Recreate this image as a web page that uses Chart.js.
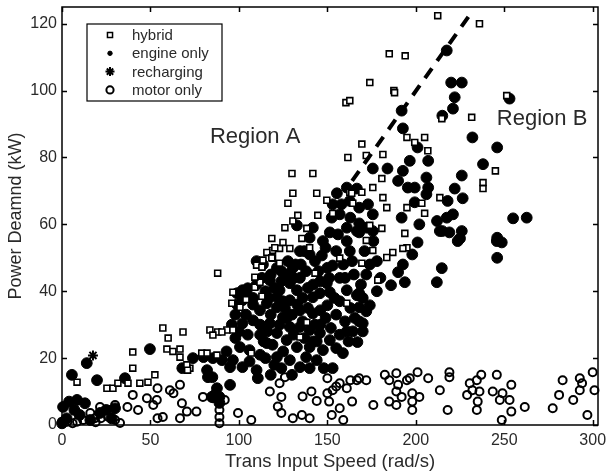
<!DOCTYPE html>
<html>
<head>
<meta charset="utf-8">
<script src="https://cdn.jsdelivr.net/npm/chart.js@4.4.1/dist/chart.umd.min.js"></script>
<style>
  html, body { margin: 0; background: #fff; }
</style>
</head>
<body>
<canvas id="chart" width="611" height="476"></canvas>
<script>
// [speed (rad/s), power (kW)]
const hybridPoints = [
  [8.5,12.8],[25.4,11],[28.8,11],[31.6,12.5],[37.3,12.5],[40,17],[40,21.8],[44,12.5],[48.6,12.8],[52.5,15],
  [57,29],[60,26],[68.4,27.8],[59.3,22.7],[62.7,22],[66.7,22.7],[66.7,20.3],[72.3,17],[79,21.5],[83.6,28.4],
  [88,27.8],[93.2,28.4],[96.6,28.4],[87.6,20.9],[107,21.5],[88,45.4],[96,36.4],[96.6,39.7],[100.6,35.2],[85.3,26.9],
  [90.4,27.8],[82,21.5],[138.4,30.7],[134.5,26.3],[161,36.4],[70.6,18],[71,16.4],[109,41.2],[111.9,42.7],[110,47.8],
  [113.6,49.3],[119,49.9],[123,52.8],[126,59],[130.5,61],[127.7,66.3],[119,52.2],[161.6,80],[172,80.6],[130,75.2],
  [141.8,75.2],[130.5,69.3],[144,69.3],[149.7,67.2],[133.3,62.7],[138.4,58.8],[144.6,62.7],[135.6,55.8],[140,53],[118.6,55.8],
  [124.9,54.6],[120.3,53],[128.8,52.8],[115.8,51.6],[118.6,50],[113,47.2],[123,48.4],[109,44.2],[143,45.4],[169.5,48.4],
  [157,49.9],[162.7,69.6],[169.5,69.6],[164.4,66.3],[153,63.3],[172,55.2],[185,111],[194,110.4],[174,102.4],[187.6,100],
  [160.5,96.4],[162.7,97],[169.5,84],[181.4,80.9],[195,86],[205,86],[212.4,122.4],[236,120],[251.4,98.5],[231.6,92],
  [214.7,91.6],[199.4,84.5],[206.8,82],[245,76],[238,72.5],[238,70.7],[213.6,68],[203.4,66.3],[205,63.3],[195,65],
  [193.8,57.3],[195,53],[188,99.4],[180.8,73.7],[175.7,71],[181.4,68],[183.6,65],[163.8,69.3],[180.8,58.8],[174,59.7],
  [175.7,52.2],[187,51.6],[192.7,52.8],[183.6,50.1],[178.5,43.3],[104,37.5],[113,38.5]
];
const engineOnlyPoints = [
  [0,0.5],[2.6,2],[0.6,5.4],[7,4.5],[8.5,7.5],[10,3],[13,6.5],[16,1.5],[21.5,3.6],[25,4.5],
  [28,2],[30,5],[5.6,15],[14,18.5],[19.8,13.4],[35.6,14],[49.7,22.7],[68,17],[74,20],[80,20.3],
  [85.3,20],[90.4,19.4],[82.5,14.3],[85,14.3],[87.6,11],[84.7,8.4],[89,8.4],[89,6.6],[86.4,9],[95,12],
  [110.7,14],[82,16.4],[4,7],
  [98.9,39.4],[104.5,38.8],[102,37.3],[108,31.3],[102,30.4],[117.5,30.4],[124.9,32.2],[121.5,27.5],[127,25.4],[115.8,24.5],
  [106,22.4],[100.6,23.3],[96.6,19.4],[95,17.3],[102,17.3],[110,16.4],[121.5,20.3],[128.8,19.4],[134.5,17.3],[138,20.3],
  [144,19.4],[147.5,22.4],[140,23.3],[132.8,23.3],[134.5,29.3],[140,28.4],[128.8,29.3],[115.8,36.4],[121.5,35.2],[111.9,34.3],
  [134.5,34.3],[141.8,33.4],[128.8,37.3],[123,40.3],[132.8,40.3],[145.8,27.5],[151.4,25.4],[146,34.3],[150,35.8],[151.4,39.7],
  [141.8,38.2],[153,17],[158.8,21.5],[161,28],[164.4,28],[170,28],[167,24.8],[165.5,32],[166.7,38.8],[168,35.2],
  [174,35.8],[170,30.4],[170,38],[112,27],[118,33],[125,22],[130,33],[137,26],[143,30],[110,42],
  [115,40],[136,38],[138,46],[145,46],[155,33],[157,37],[160,44],[120,18],[115,20],[130,15],
  [105,27],[98,26],[148,17],[172,45],[180,44],
  [100,28],[104,33],[108,36],[112,30],[116,28],[119,24],[123,30],[126,35],[131,27],[133,36],
  [136,31],[139,35],[142,25],[146,30],[149,32],[152,29],[155,23],[157,27],[160,31],[163,35],
  [159,48],[155,52],[150,47],[146,43],[142,42],[139,41],[135,48],[131,44],[127,45],[124,43],
  [120,41],[117,38],[113,44],[108,38],[125,37],[118,45],[137,52],[143,49],[149,53],[156,57],
  [163,62],[158,66],[165,45],[169,42],[171,52],[176,55],[178,40],[106,19],[112,21],[118,15],
  [124,17],[140,17],[144,25],[98,33],[96,30],[93,22],[114,25],[127,32],[132,48],[151,44],
  [164,49],[154,38],[162,25],[168,31],[172,34],[99,36],
  [110,49],[113.6,48],[121.5,47],[134.5,52],[140,56],[141.8,59],[155.4,69.3],[161,71],[153,66],[157,63],
  [152.5,62],[132.8,59.7],[166.7,58],[151.4,57.6],[147.5,55],[161,55],[168,57.6],[172,59],[162.7,52],[146.9,50.7],
  [140,51],[127.7,49],[130.5,47],[124,46],[134.5,44],[128.8,42.4],[153,47.7],[157,44],[149.7,42.4],[161,40.3],
  [168,39.4],[145.8,39.4],[102,40.3],[105,40.9],[117.5,43.3],[121.5,38.2],[166.7,70.7],[173,66],[168,65],[175.7,63],
  [161,59],[175.7,58],[162.7,67],[168,60.3],[174,48],[178,49],
  [220,102.4],[226,102.4],[222,98],[221,94.6],[215,92.5],[192,94],[192.7,88.7],[201,83],[207,79],[196.6,79],
  [184,76.7],[175.7,76.7],[192.7,76],[190,73],[195.5,71],[206,74],[207,71],[206,69],[199.4,71],[232,86],
  [246,83],[238,78],[226,74.6],[222,70.7],[226.5,67.8],[218,67],[199.4,66.6],[192,62],[202,60],[212,61],
  [217.5,62],[221,63],[215,58],[226,58],[246,56],[217.5,112],[253,97.6],[255,61.8],[262.7,62],[245.8,55],
  [248.6,54.6],[225,55.8],[219,57.6],[213.6,58],[223.7,55],[201,54.6],[198,51],[192.7,48],[190,45.7],[193.8,42.7],
  [186,41.8],[214.7,46.9],[211.9,42.7],[246,50]
];
const rechargingPoints = [[17.5,20.8]];
const motorOnlyPoints = [
  [0,1],[3,1],[6,0.5],[8.5,1],[12,1.5],[16,3.6],[18.6,2],[19,0.8],[22,2],[21.5,5.4],
  [26,2.5],[27,4.5],[30,6],[30,1.5],[32.8,0.6],[37,5.4],[40,9],[43,4.5],[48,8],[51.6,6],
  [53.6,7.5],[54,11],[54,2],[57,2.4],[61,10.4],[63,9.5],[66.7,12],[67.8,6.5],[70.6,4],[66.7,2],
  [76,4],[79.7,8.4],[85.3,8],[89,2.4],[89,0.5],[89,4.5],[92,7.5],[99.5,3.6],[107,1.5],[117.5,10],
  [123,12.5],[126,14.3],[124,8.4],[122,5.5],[124,3.6],[130.5,2],[135.6,3],[140,2],[136,8.5],[141,10],
  [144,7.2],[150,9.5],[150,14],[153,10.4],[155,11.5],[157,12.5],[161,11],[163,13.4],[166.7,13.4],[168,14],
  [172,13.4],[151,7],[157,5],[159,1.5],[152.5,3],[164,7],[176,6],[182.5,15],[185,13.4],[189,15.5],
  [190,12],[189,10],[192,8.4],[195,13.4],[196.6,14],[201,15.8],[207,14],[213.6,10.4],[185,7],[189,6],
  [198,9.5],[198,7],[198,4.5],[202,8.4],[219,15.8],[219,14.3],[218,4.5],[230.5,12.5],[232,10.4],[229,9],
  [235,7],[234.5,4.5],[237,15],[245.8,15],[243.5,10],[249,9.5],[254,12],[253,7.5],[247.5,7.5],[261.6,5.4],
  [254,4],[248.6,1.5],[236,10],[234.5,13.4],[277.4,5],[281,9],[283,13.4],[289,7.5],[292.7,14],[292.7,10.4],
  [294,12.5],[297,3],[300,15.8],[301,10.4]
];
// dashed boundary between region A and region B
const boundarySpeed = [164, 231];
const boundaryPower = [73, 123];

const xTicks = [0, 50, 100, 150, 200, 250, 300];
const yTicks = [0, 20, 40, 60, 80, 100, 120];
const legendLabels = ["hybrid", "engine only", "recharging", "motor only"];
const regionLabels = [
  { text: "Region A", x: 83.6, y: 86 },
  { text: "Region B", x: 245.8, y: 91.6 }
];

const FONT = "'Liberation Sans', Arial, Helvetica, sans-serif";
const TEXT = "#2a2a2a";

const toXY = pts => pts.map(p => ({ x: p[0], y: p[1] }));

const legendMarks = [
  { pointStyle: "rect", radius: 3.6, borderWidth: 1.5, fill: "#fff" },
  { pointStyle: "circle", radius: 2.2, borderWidth: 1, fill: "#000" },
  { pointStyle: "star", radius: 4.5, borderWidth: 2, fill: "#000" },
  { pointStyle: "circle", radius: 3.6, borderWidth: 2, fill: "#fff" }
];

const framePlugin = {
  id: "frame",
  afterDraw(chart) {
    const { ctx, chartArea: a, scales: { x, y } } = chart;
    ctx.save();
    ctx.strokeStyle = "#000";
    ctx.lineWidth = 1.5;
    ctx.strokeRect(a.left, a.top, a.right - a.left, a.bottom - a.top);

    // inward ticks on all four sides
    ctx.beginPath();
    xTicks.forEach(v => {
      const px = Math.round(x.getPixelForValue(v)) + 0.5;
      ctx.moveTo(px, a.bottom); ctx.lineTo(px, a.bottom - 5);
      ctx.moveTo(px, a.top); ctx.lineTo(px, a.top + 5);
    });
    yTicks.forEach(v => {
      const py = Math.round(y.getPixelForValue(v)) + 0.5;
      ctx.moveTo(a.left, py); ctx.lineTo(a.left + 5, py);
      ctx.moveTo(a.right, py); ctx.lineTo(a.right - 5, py);
    });
    ctx.stroke();

    // region labels
    ctx.fillStyle = TEXT;
    ctx.font = "22px " + FONT;
    ctx.textBaseline = "middle";
    ctx.textAlign = "left";
    regionLabels.forEach(r => {
      ctx.fillText(r.text, x.getPixelForValue(r.x), y.getPixelForValue(r.y));
    });

    // legend box
    const lx = a.left + 25, ly = a.top + 17, lw = 135, lh = 77;
    ctx.fillStyle = "#fff";
    ctx.fillRect(lx, ly, lw, lh);
    ctx.lineWidth = 1.2;
    ctx.strokeStyle = "#000";
    ctx.strokeRect(lx, ly, lw, lh);
    legendLabels.forEach((label, i) => {
      const cy = ly + 11 + i * 18.3;
      const m = legendMarks[i];
      ctx.fillStyle = m.fill;
      ctx.strokeStyle = "#000";
      ctx.lineWidth = m.borderWidth;
      Chart.helpers.drawPoint(ctx, { pointStyle: m.pointStyle, radius: m.radius, rotation: 0, borderWidth: m.borderWidth }, lx + 23, cy);
      ctx.fillStyle = TEXT;
      ctx.font = "15px " + FONT;
      ctx.fillText(label, lx + 45, cy + 1);
    });
    ctx.restore();
  }
};

new Chart(document.getElementById("chart"), {
  type: "scatter",
  data: {
    datasets: [
      {
        label: "engine only",
        data: toXY(engineOnlyPoints),
        pointStyle: "circle",
        pointRadius: 5.4,
        pointBorderWidth: 1,
        pointBackgroundColor: "#000",
        pointBorderColor: "#000",
        clip: false,
        order: 4
      },
      {
        label: "hybrid",
        data: toXY(hybridPoints),
        pointStyle: "rect",
        pointRadius: 4.2,
        pointBorderWidth: 1.6,
        pointBackgroundColor: "#fff",
        pointBorderColor: "#000",
        clip: false,
        order: 3
      },
      {
        label: "motor only",
        data: toXY(motorOnlyPoints),
        pointStyle: "circle",
        pointRadius: 4,
        pointBorderWidth: 2,
        pointBackgroundColor: "rgba(0,0,0,0)",
        pointBorderColor: "#000",
        clip: false,
        order: 2
      },
      {
        label: "recharging",
        data: toXY(rechargingPoints),
        pointStyle: "star",
        pointRadius: 5,
        pointBorderWidth: 2,
        pointBorderColor: "#000",
        clip: false,
        order: 1
      },
      {
        label: "boundary",
        type: "line",
        data: boundarySpeed.map((s, i) => ({ x: s, y: boundaryPower[i] })),
        borderColor: "#000",
        borderWidth: 4,
        borderDash: [12, 9],
        pointRadius: 0,
        fill: false,
        order: 0
      }
    ]
  },
  options: {
    responsive: false,
    animation: false,
    layout: { padding: { top: 5, right: 13, left: 0, bottom: 0 } },
    plugins: {
      legend: { display: false },
      tooltip: { enabled: false }
    },
    scales: {
      x: {
        type: "linear",
        min: 0,
        max: 303,
        afterBuildTicks: s => { s.ticks = xTicks.map(v => ({ value: v })); },
        afterFit: s => { s.height = 51; s.paddingLeft = 0; s.paddingRight = 0; },
        grid: { display: false, drawTicks: false, tickLength: 0 },
        border: { display: false },
        ticks: { color: TEXT, font: { family: FONT, size: 16 }, padding: 6, maxRotation: 0 },
        title: {
          display: true,
          text: "Trans Input Speed (rad/s)",
          color: TEXT,
          font: { family: FONT, size: 18.5 },
          padding: { top: 0, bottom: 3 }
        }
      },
      y: {
        type: "linear",
        min: 0,
        max: 125,
        afterBuildTicks: s => { s.ticks = yTicks.map(v => ({ value: v })); },
        afterFit: s => { s.width = 62; s.paddingTop = 0; s.paddingBottom = 0; },
        grid: { display: false, drawTicks: false, tickLength: 0 },
        border: { display: false },
        ticks: { color: TEXT, font: { family: FONT, size: 16 }, padding: 5 },
        title: {
          display: true,
          text: "Power Deamnd (kW)",
          color: TEXT,
          font: { family: FONT, size: 18 },
          padding: { top: 5, bottom: 0 }
        }
      }
    }
  },
  plugins: [framePlugin]
});
</script>
</body>
</html>
